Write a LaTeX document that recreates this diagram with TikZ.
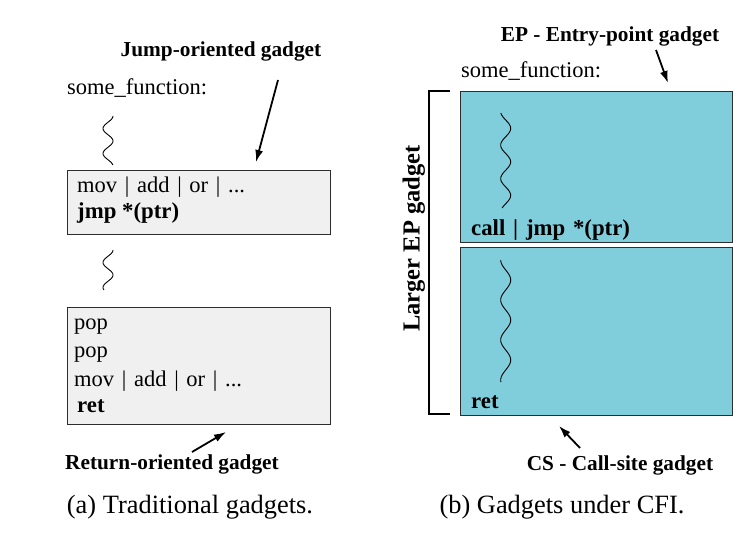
\documentclass[tikz,border=0pt]{standalone}
\usepackage{fontspec}
\setmainfont{Liberation Serif}
\usetikzlibrary{arrows.meta}
\definecolor{boxgray}{RGB}{240,240,240}
\definecolor{boxcyan}{RGB}{128,205,219}
\definecolor{edgedark}{RGB}{45,45,45}
\tikzset{
  code/.style={anchor=base west, inner sep=0pt, font=\fontsize{22.5}{24}\selectfont},
  codeb/.style={code, font=\fontsize{22.8}{24}\selectfont\bfseries},
  lbl/.style={anchor=base, inner sep=0pt, font=\fontsize{21.3}{22}\selectfont\bfseries},
  capt/.style={anchor=base, inner sep=0pt, font=\fontsize{26.4}{28}\selectfont},
  graybox/.style={draw=edgedark, fill=boxgray, line width=1.3pt, anchor=north west, inner sep=0pt},
  cyanbox/.style={draw=edgedark, fill=boxcyan, line width=1.3pt, anchor=north west, inner sep=0pt},
  ptr/.style={line width=1.8pt, -{Latex[length=12pt,width=8pt]}},
  squig/.style={line width=0.9pt, smooth},
}
\begin{document}
\begin{tikzpicture}[x=1pt,y=-1pt]
\useasboundingbox (0,0) rectangle (748,544);
% ---------- (a) ----------
\node[lbl] (jlab) at (221,56) {Jump-oriented gadget};
\node[code] (sf1) at (67,94) {some\_function:};
\draw[squig, domain=116:165, samples=60, variable=\t] plot ({108+5*sin(14.4*(\t-116)+90)}, \t);
\node[graybox, minimum width=263pt, minimum height=64pt] (b1) at (67,170) {};
\node[code] (b1l1) at (77,192) {\spaceskip=7.7pt mov | add | or | ...};
\node[codeb] (b1l2) at (77,218) {jmp *(ptr)};
\draw[squig, domain=250:290, samples=60, variable=\t] plot ({108+5*sin(14.4*(\t-250)+90)}, \t);
\node[graybox, minimum width=263pt, minimum height=117pt] (b2) at (67,307) {};
\node[code] (b2l1) at (74,329) {pop};
\node[code] (b2l2) at (74,357) {pop};
\node[code] (b2l3) at (74,386) {\spaceskip=7.7pt mov | add | or | ...};
\node[codeb] (b2l4) at (77,412) {ret};
\node[lbl] (rlab) at (172,469) {Return-oriented gadget};
\node[capt] (capa) at (190,513) {(a) Traditional gadgets.};
\coordinate (jtail) at (278,80);
\coordinate (jhead) at (256,162);
\draw[ptr] (jtail) -- (jhead);
\coordinate (rtail) at (192,452);
\coordinate (rhead) at (226,432);
\draw[ptr] (rtail) -- (rhead);
% ---------- (b) ----------
\node[lbl] (eplab) at (610,41) {EP - Entry-point gadget};
\node[code] (sf2) at (461,77) {some\_function:};
\node[cyanbox, minimum width=272pt, minimum height=151pt] (c1) at (460,91) {};
\node[cyanbox, minimum width=272pt, minimum height=168pt] (c2) at (460,247) {};
\draw[squig, domain=113:208, samples=90, variable=\t] plot ({505.7+5*sin(10.75*(\t-120))}, \t);
\draw[squig, domain=260:382, samples=110, variable=\t] plot ({505.7+5*sin(9*(\t-270))}, \t);
\node[codeb] (cl) at (471,235) {\spaceskip=7.8pt call | jmp *(ptr)};
\node[codeb] (rt) at (471,408) {ret};
\coordinate (brt) at (450,91);
\coordinate (brb) at (450,414);
\draw[line width=1.8pt] (brt) -- (429,91) -- (429,414) -- (brb);
\node[lbl, anchor=base, rotate=90, font=\fontsize{24.5}{26}\selectfont\bfseries] (larger) at (419.5,238.5) {Larger EP gadget};
\node[lbl] (cslab) at (620,470) {CS - Call-site gadget};
\node[capt] (capb) at (562,513) {(b) Gadgets under CFI.};
\coordinate (etail) at (656,50);
\coordinate (ehead) at (668,83);
\draw[ptr] (etail) -- (ehead);
\coordinate (ctail) at (580,448);
\coordinate (chead) at (559,426);
\draw[ptr] (ctail) -- (chead);
\end{tikzpicture}
\end{document}
